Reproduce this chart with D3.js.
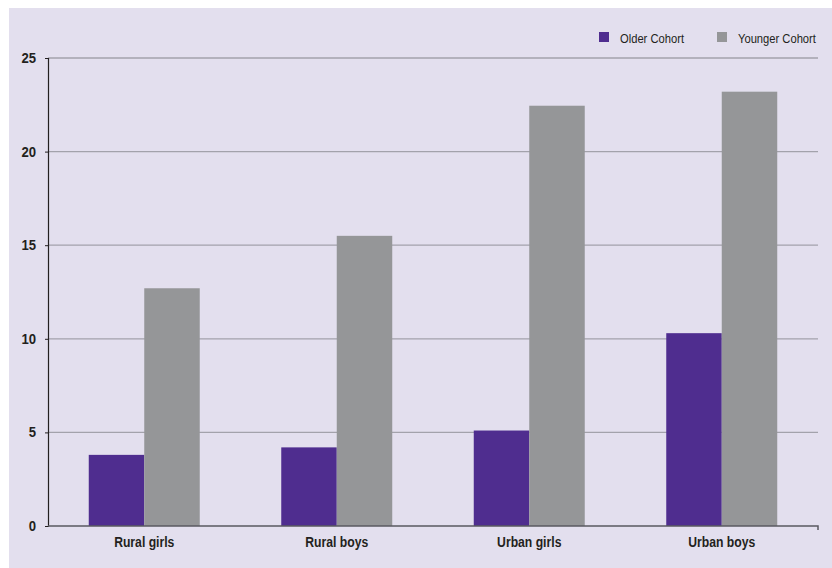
<!DOCTYPE html>
<html>
<head>
<meta charset="utf-8">
<script src="https://cdn.jsdelivr.net/npm/d3@7"></script>
<style>
  html, body { margin: 0; padding: 0; background: #ffffff; }
  svg { display: block; }
  text { font-family: "Liberation Sans Narrow", "Arial Narrow", "Liberation Sans", sans-serif; fill: #231F20; }
</style>
</head>
<body>
<svg id="chart" width="832" height="568"></svg>
<script>
const categories = ["Rural girls", "Rural boys", "Urban girls", "Urban boys"];
const seriesNames = ["Older Cohort", "Younger Cohort"];
const olderCohort = [3.8, 4.2, 5.1, 10.3];
const youngerCohort = [12.7, 15.5, 22.45, 23.2];
const yTicks = [0, 5, 10, 15, 20, 25];
const colors = ["#4F2D8F", "#959698"];

const svg = d3.select("#chart");
svg.append("rect").attr("x", 9).attr("y", 8).attr("width", 823).attr("height", 560).attr("fill", "#E3DFEE");

const margin = { left: 48, right: 14, top: 58, bottom: 42 };
const W = 832, H = 568;
const x = d3.scaleBand().domain(categories).range([margin.left, W - margin.right])
  .paddingInner(0.4234).paddingOuter(0.2117);
const xs = d3.scaleBand().domain(seriesNames).range([0, x.bandwidth()]);
const y = d3.scaleLinear().domain([0, 25]).range([H - margin.bottom, margin.top]);

// gridlines
svg.append("g").selectAll("line").data(yTicks.filter(t => t > 0)).join("line")
  .attr("x1", margin.left).attr("x2", W - margin.right)
  .attr("y1", d => y(d)).attr("y2", d => y(d))
  .attr("stroke", "#A3A2AB").attr("stroke-width", 1.3);

const data = categories.map((c, i) => ({ cat: c, vals: [olderCohort[i], youngerCohort[i]] }));
svg.append("g").selectAll("g").data(data).join("g")
  .attr("transform", d => `translate(${x(d.cat)},0)`)
  .selectAll("rect").data(d => d.vals.map((v, j) => ({ v, s: seriesNames[j], j }))).join("rect")
  .attr("x", d => xs(d.s)).attr("width", xs.bandwidth())
  .attr("y", d => y(d.v)).attr("height", d => y(0) - y(d.v))
  .attr("fill", d => colors[d.j]);

// y axis
const yAxis = d3.axisLeft(y).tickValues(yTicks).tickSize(3).tickPadding(9).tickFormat(d3.format("d"));
const gy = svg.append("g").attr("transform", `translate(${margin.left},0)`).call(yAxis);
gy.select(".domain").attr("stroke", "#231F20").attr("stroke-width", 1.2);
gy.selectAll(".tick line").attr("stroke", "#231F20");
gy.selectAll(".tick text").style("font-size", "14px").style("font-weight", "bold").attr("fill", "#231F20")
  .attr("textLength", d => String(d).length * 7.3).attr("lengthAdjust", "spacingAndGlyphs");

// x axis
const xAxis = d3.axisBottom(x).tickSize(0).tickPadding(11);
const gx = svg.append("g").attr("transform", `translate(0,${y(0)})`).call(xAxis);
gx.select(".domain").attr("stroke", "#5A5960").attr("stroke-width", 1.5).attr("d", `M${margin.left},0H${W - margin.right}V4`);
gx.selectAll(".tick text").style("font-size", "14px").style("font-weight", "bold").attr("fill", "#231F20")
  .attr("textLength", function () { return this.getComputedTextLength() * 0.87; })
  .attr("lengthAdjust", "spacingAndGlyphs");

// legend
const legendX = [599, 717];
const lg = svg.append("g").selectAll("g").data(seriesNames).join("g")
  .attr("transform", (d, i) => `translate(${legendX[i]},32)`);
lg.append("rect").attr("width", 10).attr("height", 10).attr("fill", (d, i) => colors[i]);
lg.append("text").attr("x", 21).attr("y", 10.5).style("font-size", "13px").attr("fill", "#3A3A3F").text(d => d)
  .attr("textLength", function () { return this.getComputedTextLength() * 0.86; })
  .attr("lengthAdjust", "spacingAndGlyphs");
</script>
</body>
</html>
